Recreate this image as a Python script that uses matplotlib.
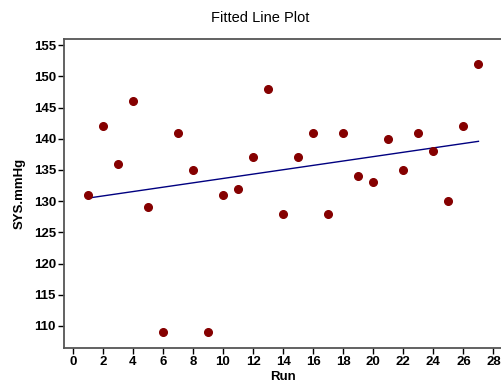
import numpy as np
import matplotlib
matplotlib.use("Agg")
import matplotlib.pyplot as plt

run = list(range(1, 28))
sys_mmhg = [131, 142, 136, 146, 129, 109, 141, 135, 109, 131, 132, 137, 148, 128,
            137, 141, 128, 141, 134, 133, 140, 135, 141, 138, 130, 142, 152]
xticks = list(range(0, 29, 2))
yticks = list(range(110, 156, 5))

plt.rcParams['font.family'] = ['Liberation Sans', 'DejaVu Sans']

fig = plt.figure(figsize=(5.01, 3.89), dpi=100)
ax = fig.add_axes([0.1283, 0.1062, 0.8717, 0.7935])

# linear fit
b, a = np.polyfit(run, sys_mmhg, 1)
xs = np.array([run[0], run[-1]])
ax.plot(xs, a + b * xs, color='#000080', lw=1.0, zorder=2)
ax.plot(run, sys_mmhg, 'o', color='#850000', ms=5.5, mec='#850000', zorder=3)

ax.set_xlim(-0.56, 28.5)
ax.set_ylim(106.5, 156.0)
ax.set_xticks(xticks)
ax.set_yticks(yticks)

for s in ['left', 'bottom', 'top']:
    ax.spines[s].set_color('#555555')
    ax.spines[s].set_linewidth(1.3)
ax.spines['right'].set_visible(False)

ax.tick_params(direction='out', length=4, width=1, color='black', pad=2)
for lab in ax.get_xticklabels() + ax.get_yticklabels():
    lab.set_fontweight('bold')
    lab.set_fontsize(9.5)

ax.set_xlabel('Run', fontsize=9.5, fontweight='bold', labelpad=2)
ax.set_ylabel('SYS.mmHg', fontsize=9.5, fontweight='bold', labelpad=6)
fig.text(0.52, 0.955, 'Fitted Line Plot', ha='center', va='center', fontsize=10.5,
         stretch='condensed')

fig.savefig('out.png', dpi=100)
